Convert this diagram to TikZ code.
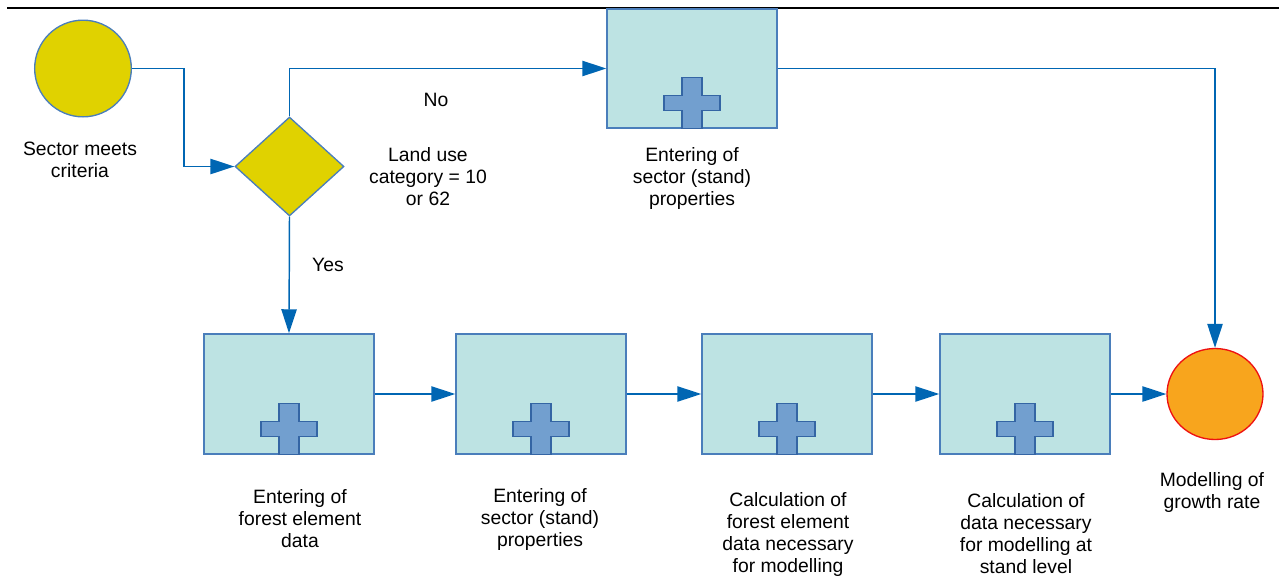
\documentclass[tikz,border=0pt]{standalone}
\usepackage{fontspec}
\setmainfont{Liberation Sans}
\usetikzlibrary{shapes.geometric,arrows.meta}

\definecolor{startyellow}{RGB}{224,210,0}
\definecolor{boxfill}{RGB}{189,227,227}
\definecolor{boxline}{RGB}{74,126,187}
\definecolor{plusfill}{RGB}{114,159,207}
\definecolor{plusline}{RGB}{52,101,164}
\definecolor{flowblue}{RGB}{0,102,179}
\definecolor{goalorange}{RGB}{248,165,29}
\definecolor{goalred}{RGB}{238,17,17}

\tikzset{
  every node/.style={font=\fontsize{14.5}{16.5}\selectfont},
  label/.style={align=center, inner sep=0pt},
  stepbox/.style={rectangle, draw=boxline, fill=boxfill, line width=1.1pt,
    minimum width=127.5pt, minimum height=90pt, inner sep=0pt},
  startnode/.style={circle, draw=boxline, fill=startyellow, line width=1pt,
    minimum size=72.5pt, inner sep=0pt},
  decision/.style={diamond, draw=boxline, fill=startyellow, line width=1pt,
    minimum width=81.75pt, minimum height=74.25pt, inner sep=0pt},
  goalnode/.style={ellipse, draw=goalred, fill=goalorange, line width=1pt,
    minimum width=72pt, minimum height=68.25pt, inner sep=0pt},
  flow/.style={draw=flowblue, line width=1.1pt,
    -{Triangle[length=18pt, width=11.5pt]}},
  plusmark/.style={draw=plusline, fill=plusfill, line width=1pt}
}

\begin{document}
\begin{tikzpicture}[x=0.75pt, y=-0.75pt]
  \useasboundingbox (0,0) rectangle (1279,579);
  \draw[line width=1pt] (7,8) -- (1279,8);

  % shapes
  \node[startnode] (start) at (83,68.5) {};
  \node[decision] (check) at (289.5,166.5) {};
  \node[stepbox, minimum height=89.25pt] (top) at (692,68.5) {};
  \node[stepbox] (forest) at (289,394) {};
  \node[stepbox] (sector) at (541,394) {};
  \node[stepbox] (calcforest) at (787,394) {};
  \node[stepbox] (calcstand) at (1025,394) {};
  \node[goalnode] (goal) at (1215,394) {};

  % plus marks
  \foreach \b in {top,forest,sector,calcforest,calcstand}
    \draw[plusmark, shift={(\b.south)}] (-10,0) -- (-10,-18) -- (-28,-18)
      -- (-28,-33) -- (-10,-33) -- (-10,-51) -- (10,-51) -- (10,-33)
      -- (28,-33) -- (28,-18) -- (10,-18) -- (10,0) -- cycle;

  % texts
  \node[label] (startlbl) at (80,160) {Sector meets\\criteria};
  \node[label] (nolbl) at (436,100) {No};
  \node[label] (checklbl) at (428,177) {Land use\\category = 10\\or 62};
  \node[label] (yeslbl) at (328,265) {Yes};
  \node[label] (toplbl) at (692,178) {Entering of\\sector (stand)\\properties};
  \node[label] (forestlbl) at (300,519) {Entering of\\forest element\\data};
  \node[label] (sectorlbl) at (540,519) {Entering of\\sector (stand)\\properties};
  \node[label] (calcforestlbl) at (788,534) {Calculation of\\forest element\\data necessary\\for modelling};
  \node[label] (calcstandlbl) at (1026,534) {Calculation of\\data necessary\\for modelling at\\stand level};
  \node[label] (goallbl) at (1212,492) {Modelling of\\growth rate};

  % connectors
  \draw[flow] (start.east) -- ++(52,0) |- (check.west);
  \draw[flow] (check.north) |- (top.west);
  \draw[flow] (top.east) -| (goal.north);
  \draw[flow] (check.south) -- (forest.north);
  \draw[flow] (forest.east) -- (sector.west);
  \draw[flow] (sector.east) -- (calcforest.west);
  \draw[flow] (calcforest.east) -- (calcstand.west);
  \draw[flow] (calcstand.east) -- (goal.west);
\end{tikzpicture}
\end{document}
